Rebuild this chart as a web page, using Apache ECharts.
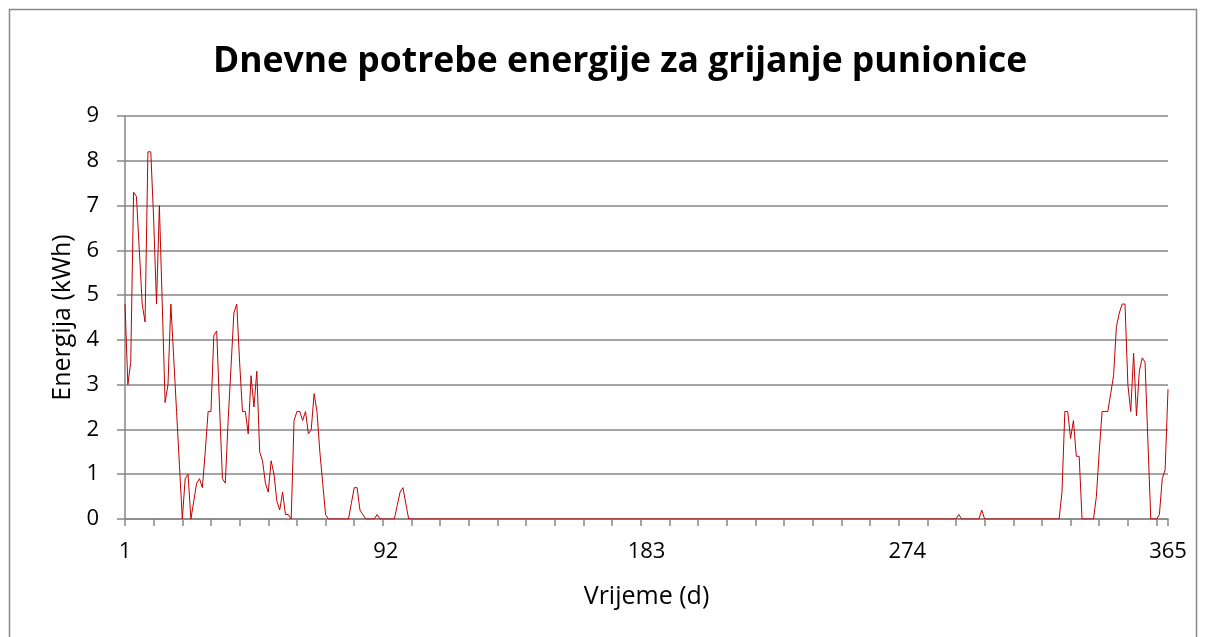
<!DOCTYPE html>
<html>
<head>
<meta charset="utf-8">
<script src="https://cdn.jsdelivr.net/npm/echarts@6/dist/echarts.min.js"></script>
<style>html,body{margin:0;padding:0;background:#fff;}#chart{width:1206px;height:637px;}</style>
</head>
<body>
<div id="chart"></div>
<script>
var titleText = 'Dnevne potrebe energije za grijanje punionice';
var xAxisName = 'Vrijeme (d)';
var yAxisName = 'Energija (kWh)';
var xTickLabels = ['1', '92', '183', '274', '365'];
var yTicks = [0, 1, 2, 3, 4, 5, 6, 7, 8, 9];
var days = [];
for (var i = 1; i <= 365; i++) days.push(String(i));
var energy = [
  4.8,3.0,3.5,7.3,7.2,6.0,4.8,4.4,8.2,8.2,
  6.7,4.8,7.0,4.8,2.6,3.0,4.8,3.6,2.4,1.2,
  0,0.9,1.0,0,0.4,0.8,0.9,0.7,1.5,2.4,
  2.4,4.1,4.2,2.5,0.9,0.8,2.2,3.4,4.6,4.8,
  3.5,2.4,2.4,1.9,3.2,2.5,3.3,1.5,1.3,0.8,
  0.6,1.3,1.0,0.4,0.2,0.6,0.1,0.1,0,2.2,
  2.4,2.4,2.2,2.4,1.9,2.0,2.8,2.4,1.5,0.8,
  0.1,0,0,0,0,0,0,0,0,0.35,
  0.7,0.7,0.2,0.1,0,0,0,0,0.1,0,
  0,0,0,0,0,0.3,0.6,0.7,0.35,0,
  0,0,0,0,0,0,0,0,0,0,
  0,0,0,0,0,0,0,0,0,0,
  0,0,0,0,0,0,0,0,0,0,
  0,0,0,0,0,0,0,0,0,0,
  0,0,0,0,0,0,0,0,0,0,
  0,0,0,0,0,0,0,0,0,0,
  0,0,0,0,0,0,0,0,0,0,
  0,0,0,0,0,0,0,0,0,0,
  0,0,0,0,0,0,0,0,0,0,
  0,0,0,0,0,0,0,0,0,0,
  0,0,0,0,0,0,0,0,0,0,
  0,0,0,0,0,0,0,0,0,0,
  0,0,0,0,0,0,0,0,0,0,
  0,0,0,0,0,0,0,0,0,0,
  0,0,0,0,0,0,0,0,0,0,
  0,0,0,0,0,0,0,0,0,0,
  0,0,0,0,0,0,0,0,0,0,
  0,0,0,0,0,0,0,0,0,0,
  0,0,0,0,0,0,0,0,0,0,
  0,0.1,0,0,0,0,0,0,0,0.2,
  0,0,0,0,0,0,0,0,0,0,
  0,0,0,0,0,0,0,0,0,0,
  0,0,0,0,0,0,0,0.6,2.4,2.4,
  1.8,2.2,1.4,1.4,0,0,0,0,0,0.5,
  1.5,2.4,2.4,2.4,2.8,3.2,4.3,4.6,4.8,4.8,
  3.0,2.4,3.7,2.3,3.3,3.6,3.5,1.7,0,0,
  0,0.1,0.9,1.1,2.9
];

var chart = echarts.init(document.getElementById('chart'), null, {renderer: 'canvas'});
var fontFam = '"Open Sans", "Noto Sans", sans-serif';
chart.setOption({
  animation: false,
  backgroundColor: '#ffffff',
  graphic: [{
    type: 'rect',
    shape: {x: 9.5, y: 9.5, width: 1187, height: 640},
    style: {fill: 'none', stroke: '#888888', lineWidth: 1.5},
    silent: true
  }],
  title: {
    text: titleText,
    left: 208,
    top: 39,
    textStyle: {fontFamily: fontFam, fontWeight: 'bold', fontSize: 35.5, color: '#000'}
  },
  grid: {left: 125, right: 38, top: 116, bottom: 118, containLabel: false},
  xAxis: {
    type: 'category',
    data: days,
    boundaryGap: false,
    name: xAxisName,
    nameLocation: 'middle',
    nameGap: 65,
    nameTextStyle: {fontFamily: fontFam, fontSize: 25, color: '#000'},
    axisLine: {lineStyle: {color: '#868686', width: 1.5}},
    axisTick: {show: true, interval: 9, length: 7, lineStyle: {color: '#868686', width: 1.5}},
    axisLabel: {
      interval: 0,
      margin: 22,
      fontFamily: fontFam, fontSize: 22, color: '#000',
      formatter: function (v) { return xTickLabels.indexOf(v) >= 0 ? v : ''; }
    },
    splitLine: {show: false}
  },
  yAxis: {
    type: 'value',
    min: yTicks[0],
    max: yTicks[yTicks.length - 1],
    interval: 1,
    name: yAxisName,
    nameLocation: 'middle',
    nameGap: 49,
    nameTextStyle: {fontFamily: fontFam, fontSize: 25, color: '#000'},
    axisLine: {show: true, lineStyle: {color: '#868686', width: 1.5}},
    axisTick: {show: true, length: 8, lineStyle: {color: '#868686', width: 1.5}},
    axisLabel: {margin: 26, fontFamily: fontFam, fontSize: 22, color: '#000'},
    splitLine: {show: true, lineStyle: {color: '#868686', width: 1.5}}
  },
  series: [{
    type: 'line',
    data: energy,
    showSymbol: false,
    symbol: 'none',
    lineStyle: {color: '#c00000', width: 1},
    itemStyle: {color: '#c00000'}
  }]
});
</script>
</body>
</html>
